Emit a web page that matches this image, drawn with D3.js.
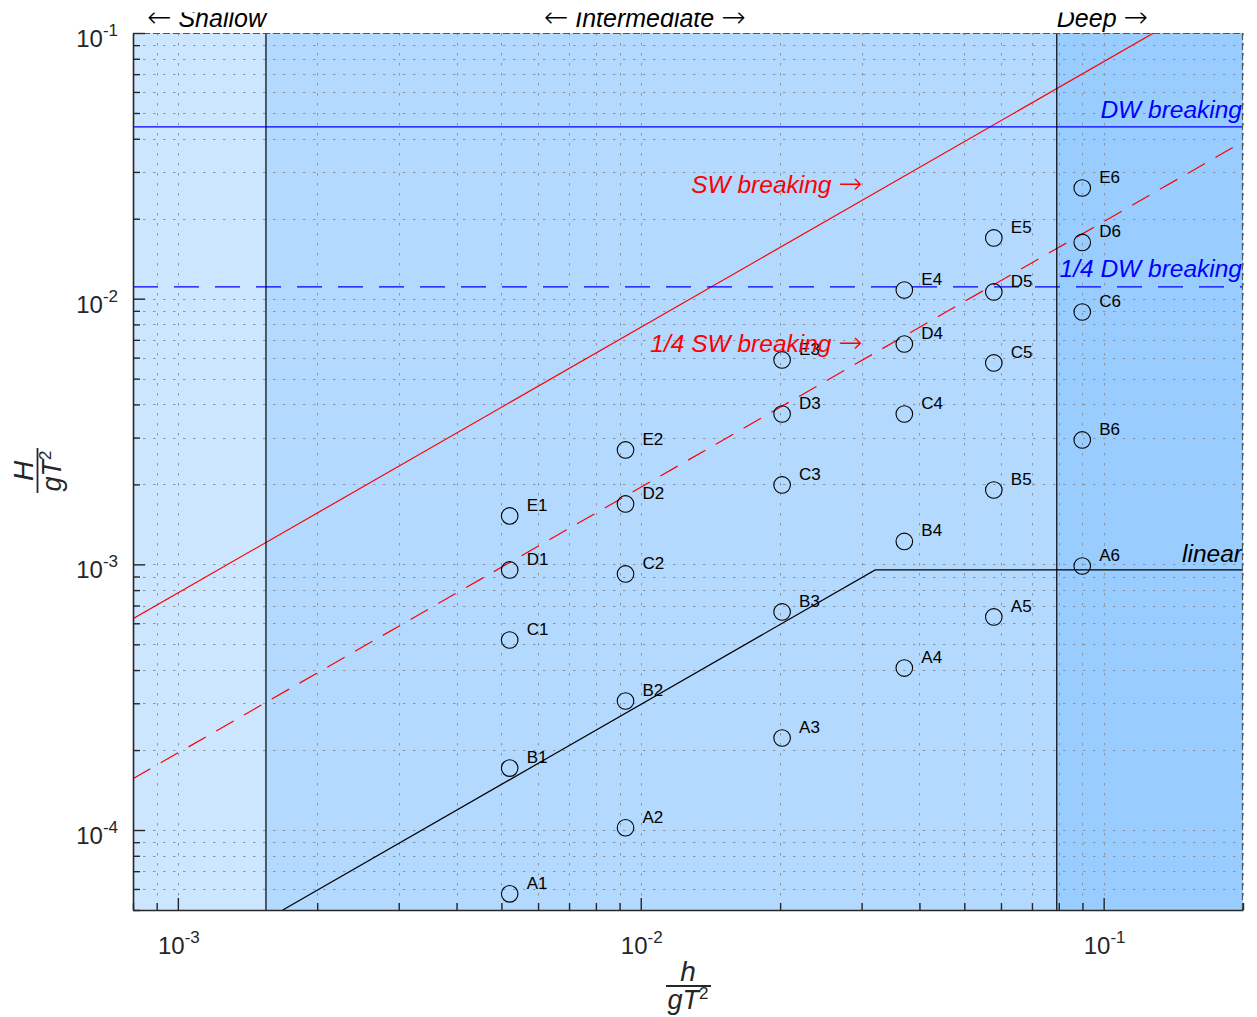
<!DOCTYPE html>
<html>
<head>
<meta charset="utf-8">
<script src="https://cdn.jsdelivr.net/npm/d3@7"></script>
<style>
body { margin: 0; background: #fff; }
text { font-family: "Liberation Sans", Arial, sans-serif; }
</style>
</head>
<body>
<script>
// relative depth h/gT^2 of each test column
var hCols = [0.00521, 0.00927, 0.0202, 0.0371, 0.0579, 0.0899];
// relative wave height H/gT^2, one array per series (A..E)
var seriesA = [5.75e-5, 1.02e-4, 2.22e-4, 4.07e-4, 6.34e-4, 9.86e-4];
var seriesB = [1.71e-4, 3.06e-4, 6.62e-4, 1.22e-3, 1.905e-3, 2.94e-3];
var seriesC = [5.19e-4, 9.20e-4, 1.99e-3, 3.68e-3, 5.73e-3, 8.91e-3];
var seriesD = [9.53e-4, 1.688e-3, 3.68e-3, 6.75e-3, 1.06e-2, 1.628e-2];
var seriesE = [1.522e-3, 2.695e-3, 5.88e-3, 1.078e-2, 1.693e-2, 2.61e-2];
var seriesNames = ["A", "B", "C", "D", "E"];

var xMajor = [1e-3, 1e-2, 1e-1];
var yMajor = [1e-4, 1e-3, 1e-2, 1e-1];
var xDomain = [0.0008, 0.2];
var yDomain = [5e-5, 0.1];

var shallowLimit = 0.00155, deepLimit = 0.0792;
var swBreak = 0.78;      // H/h
var dwBreak = 0.0443;    // H/gT^2
var linearLimit = [[0.001685, 5e-5], [0.0321, 0.000953], [0.2, 0.000953]];

var margin = {top: 33, left: 133},
    width = 1110,
    height = 877;

var svg = d3.select("body").append("svg")
    .attr("width", 1257).attr("height", 1017);

var defs = svg.append("defs");
defs.append("clipPath").attr("id", "plotClip")
  .append("rect").attr("width", width).attr("height", height);
defs.append("clipPath").attr("id", "topClip")
  .append("rect").attr("x", -margin.left).attr("y", -margin.top + 12.5)
  .attr("width", 1257).attr("height", 1017);

var g = svg.append("g")
    .attr("transform", "translate(" + margin.left + "," + margin.top + ")");

var x = d3.scaleLog().domain(xDomain).range([0, width]),
    y = d3.scaleLog().domain(yDomain).range([height, 0]);

function isMajor(d) {
  var l = Math.log10(d);
  return Math.abs(l - Math.round(l)) < 1e-9;
}

// splits a label so arrows get a font with long thin arrows
function arrowText(sel) {
  sel.each(function(d){
    var t = d3.select(this);
    d.t.split(/([\u2190\u2192])/).forEach(function(part){
      if (!part) return;
      var ts = t.append("tspan").text(part);
      if (part == "\u2190" || part == "\u2192")
        ts.attr("font-family", "'DejaVu Sans', sans-serif").attr("font-style", "normal")
          .attr("font-weight", 200).attr("font-size", "1.17em");
    });
  });
}

// depth regions
var regions = [
  [xDomain[0], shallowLimit, "#cde6ff"],
  [shallowLimit, deepLimit, "#b3d9ff"],
  [deepLimit, xDomain[1], "#99ccff"]
];
g.selectAll("rect.region").data(regions).enter().append("rect")
    .attr("class", "region")
    .attr("x", function(d){ return x(d[0]); })
    .attr("width", function(d){ return x(d[1]) - x(d[0]); })
    .attr("y", 0).attr("height", height)
    .attr("fill", function(d){ return d[2]; });

// grid
var xt = x.ticks(), yt = y.ticks();
var grid = g.append("g").attr("stroke", "#939393").attr("stroke-width", 1)
    .attr("stroke-dasharray", "2.5,7.5");
grid.selectAll("line.gx").data(xt).enter().append("line")
    .attr("x1", function(d){ return Math.round(x(d)) + 0.5; })
    .attr("x2", function(d){ return Math.round(x(d)) + 0.5; })
    .attr("y1", 0).attr("y2", height);
grid.selectAll("line.gy").data(yt).enter().append("line")
    .attr("y1", function(d){ return Math.round(y(d)) + 0.5; })
    .attr("y2", function(d){ return Math.round(y(d)) + 0.5; })
    .attr("x1", 0).attr("x2", width);

var line = d3.line().x(function(d){ return x(d[0]); }).y(function(d){ return y(d[1]); });
var plot = g.append("g").attr("clip-path", "url(#plotClip)");

// breaking limits
plot.append("path")
    .attr("d", line(xDomain.map(function(h){ return [h, swBreak * h]; })))
    .attr("fill", "none").attr("stroke", "#ff0000").attr("stroke-width", 1.2);
plot.append("path")
    .attr("d", line(xDomain.map(function(h){ return [h, swBreak / 4 * h]; })))
    .attr("fill", "none").attr("stroke", "#ff0000").attr("stroke-width", 1.2)
    .attr("stroke-dasharray", "20,12");
plot.append("path")
    .attr("d", line(xDomain.map(function(h){ return [h, dwBreak]; })))
    .attr("fill", "none").attr("stroke", "#0000ff").attr("stroke-width", 1.2);
plot.append("path")
    .attr("d", line(xDomain.map(function(h){ return [h, dwBreak / 4]; })))
    .attr("fill", "none").attr("stroke", "#0000ff").attr("stroke-width", 1.2)
    .attr("stroke-dasharray", "25,16");
plot.append("path")
    .attr("d", line(linearLimit))
    .attr("fill", "none").attr("stroke", "#000").attr("stroke-width", 1.2);

// region boundaries
g.selectAll("line.bound").data([shallowLimit, deepLimit]).enter().append("line")
    .attr("x1", function(d){ return x(d); }).attr("x2", function(d){ return x(d); })
    .attr("y1", 0).attr("y2", height)
    .attr("stroke", "#000").attr("stroke-width", 1.2);

// test points
var allSeries = [seriesA, seriesB, seriesC, seriesD, seriesE];
var points = [];
allSeries.forEach(function(s, si){
  s.forEach(function(v, i){
    points.push({h: hCols[i], H: v, name: seriesNames[si] + (i + 1)});
  });
});
g.selectAll("circle.pt").data(points).enter().append("circle")
    .attr("cx", function(d){ return x(d.h); })
    .attr("cy", function(d){ return y(d.H); })
    .attr("r", 8.3)
    .attr("fill", "none").attr("stroke", "#000").attr("stroke-width", 1.1);
g.selectAll("text.pt").data(points).enter().append("text")
    .attr("x", function(d){ return x(d.h) + 17; })
    .attr("y", function(d){ return y(d.H) - 5; })
    .attr("font-size", 17).attr("fill", "#000")
    .text(function(d){ return d.name; });

// line labels
var lineLabels = [
  {t: "SW breaking \u2192", px: x(0.0301), py: y(0.025), c: "#ff0000"},
  {t: "1/4 SW breaking \u2192", px: x(0.0301), py: y(0.0063), c: "#ff0000"},
  {t: "DW breaking", px: width - 1, py: y(dwBreak) - 9, c: "#0000ff"},
  {t: "1/4 DW breaking", px: width - 1, py: y(dwBreak / 4) - 10, c: "#0000ff"},
  {t: "linear", px: width - 1, py: y(linearLimit[2][1]) - 8, c: "#000"}
];
g.selectAll("text.ll").data(lineLabels).enter().append("text")
    .attr("x", function(d){ return d.px; })
    .attr("y", function(d){ return d.py; })
    .attr("text-anchor", "end")
    .attr("font-size", 24.5).attr("font-style", "italic")
    .attr("fill", function(d){ return d.c; })
    .call(arrowText);

// top / right edges
g.append("path").attr("d", "M0,0.5H" + width + "M" + (width - 0.5) + ",0V" + height)
    .attr("fill", "none").attr("stroke", "#555").attr("stroke-width", 1.2)
    .attr("stroke-dasharray", "7,3");

// axes
var xAxis = g.append("g").attr("transform", "translate(0," + height + ")")
    .call(d3.axisBottom(x).tickValues(xt).tickSize(-7).tickSizeOuter(0).tickFormat(""));
xAxis.selectAll(".tick line").filter(isMajor).attr("y2", -12);
var yAxis = g.append("g")
    .call(d3.axisLeft(y).tickValues(yt).tickSize(-7).tickSizeOuter(0).tickFormat(""));
yAxis.selectAll(".tick line").filter(isMajor).attr("x2", 12);
g.selectAll(".domain").attr("stroke", "#262626").attr("stroke-width", 1.6);
g.selectAll(".tick line").attr("stroke", "#262626").attr("stroke-width", 1.4);

// tick labels with exponent
function powLabel(sel) {
  sel.append("tspan").text("10");
  sel.append("tspan").attr("dy", -11).attr("font-size", 17)
    .text(function(d){ return Math.round(Math.log10(d)); });
}
g.selectAll("text.xt").data(xMajor).enter().append("text")
    .attr("x", function(d){ return x(d) + 1; })
    .attr("y", height + 44)
    .attr("text-anchor", "middle").attr("font-size", 24).attr("fill", "#262626")
    .call(powLabel);
g.selectAll("text.yt").data(yMajor).enter().append("text")
    .attr("x", -15)
    .attr("y", function(d){ return y(d) + 14; })
    .attr("text-anchor", "end").attr("font-size", 24).attr("fill", "#262626")
    .call(powLabel);

// region headings
var heads = [
  {t: "\u2190 Shallow", px: x(shallowLimit), a: "end"},
  {t: "\u2190 Intermediate \u2192", px: x(0.0102), a: "middle"},
  {t: "Deep \u2192", px: x(deepLimit), a: "start"}
];
g.append("g").attr("clip-path", "url(#topClip)")
  .selectAll("text").data(heads).enter().append("text")
    .attr("x", function(d){ return d.px; })
    .attr("y", -6)
    .attr("text-anchor", function(d){ return d.a; })
    .attr("font-size", 25).attr("font-style", "italic").attr("fill", "#000")
    .call(arrowText);

// axis titles as fractions
function fraction(sel, num) {
  var f = "'Liberation Serif', 'Times New Roman', serif";
  sel.append("line").attr("x1", -22).attr("x2", 23).attr("y1", 0).attr("y2", 0)
      .attr("stroke", "#262626").attr("stroke-width", 1.8);
  sel.append("text").attr("x", 0).attr("y", -5).attr("text-anchor", "middle")
      .attr("font-family", f).attr("font-style", "italic").attr("font-size", 28)
      .attr("fill", "#262626").text(num);
  var den = sel.append("text").attr("x", 0).attr("y", 23).attr("text-anchor", "middle")
      .attr("font-family", f).attr("font-size", 27).attr("fill", "#262626");
  den.append("tspan").attr("font-style", "italic").text("gT");
  den.append("tspan").attr("font-size", 17).attr("dy", -10).text("2");
}
svg.append("g").attr("transform", "translate(688,986)").call(fraction, "h");
svg.append("g").attr("transform", "translate(37.5,471) rotate(-90)").call(fraction, "H");
</script>
</body>
</html>
